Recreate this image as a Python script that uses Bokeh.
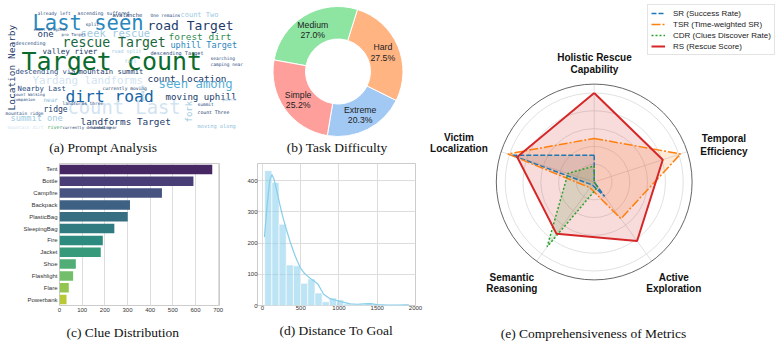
import colorsys
import numpy as np
from bokeh.plotting import figure
from bokeh.layouts import row, column
from bokeh.models import Range1d, FactorRange, FixedTicker, ColumnDataSource, Legend, LegendItem
from bokeh.core.properties import value, field
from bokeh.palettes import Viridis256
from bokeh.embed import file_html
from bokeh.resources import INLINE

# ---------------- data ----------------
prompt_phrases = [
    "Target count", "Last seen", "road Target", "seek rescue", "one", "rescue Target",
    "forest dirt", "uphill Target", "descending", "valley river", "road split",
    "descending Target", "fall", "descending via", "mountain summit", "count Location",
    "Yardang landforms", "seen among", "Nearby Last", "currently moving", "dirt road",
    "moving uphill", "near", "count Last", "ridge", "summit one", "landforms Target",
    "mountain dirt", "river", "currently descending", "landed near", "already left",
    "ascending suffered", "avalanche", "One remains", "count Two", "split",
    "count Original", "pro Target", "searching", "camping near", "count Walking",
    "companion", "landforms three", "mountain ridge", "summit", "pairs", "count Three",
    "moving along", "Location Nearby", "fork", "people",
]

difficulty_levels = ["Extreme", "Hard", "Medium", "Simple"]
difficulty_share = [20.3, 27.5, 27.0, 25.2]

clue_names = ["Tent", "Bottle", "Campfire", "Backpack", "PlasticBag", "SleepingBag",
              "Fire", "Jacket", "Shoe", "Flashlight", "Flare", "Powerbank"]
clue_counts = [674, 591, 452, 311, 301, 242, 191, 182, 72, 60, 41, 31]

dist_min, dist_max, dist_bins = 29, 1906, 20
dist_counts = [432, 394, 260, 130, 127, 71, 85, 40, 12, 24, 18, 5, 3, 4, 8, 3, 1, 1, 1, 3]
kde_x = [26, 60, 95, 123, 150, 190, 232, 270, 311, 360, 407, 450, 498, 545, 590, 647,
         721, 800, 887, 975, 1062, 1149, 1237, 1324, 1412, 1499, 1630, 1761, 1913]
kde_y = [219, 320, 400, 420, 405, 365, 318, 280, 245, 205, 172, 145, 120, 104, 94, 83,
         70, 36, 21, 16, 10, 5, 4, 5, 6, 3, 1, 1, 2]

metric_axes = ["Holistic Rescue\nCapability", "Temporal\nEfficiency", "Active\nExploration",
               "Semantic\nReasoning", "Victim\nLocalization"]
sr_vals = [0.30, 0.00, 0.20, 0.04, 0.97]
tsr_vals = [0.49, 1.02, 0.51, 0.08, 1.02]
cdr_vals = [0.18, 0.00, 0.07, 0.90, 0.31]
rs_vals = [1.00, 0.81, 0.82, 0.72, 0.91]

# ---------------- shared style ----------------
SERIF = value("Liberation Serif")
SANS = "Liberation Sans"
CAPTION_SIZE = "13.5px"


def base_fig(**kw):
    return figure(output_backend="svg", toolbar_location=None, min_border=0,
                  background_fill_color="white", border_fill_color="white", **kw)


# ---------------- (a) word cloud ----------------
G1, G2, G3, G4 = "#0a6b2d", "#17663c", "#2f8c4f", "#41a35a"
B1, B2, B3 = "#2a87bd", "#1663a5", "#57aed5"
L1, L1b, L2 = "#9ecae1", "#8dbddb", "#d2e4f1"
N1, N2 = "#1d3b6b", "#2a4a80"
# x, baseline y, font px, colour, vertical
cloud_layout = [
    (21, 69.5, 25, G1, 0), (32, 29.5, 20.5, B1, 0), (147, 29.5, 13, N1, 0),
    (80, 36.5, 10.5, L1, 0), (37, 36.5, 9, N1, 0), (62, 46.5, 13.2, G2, 0),
    (168, 39.5, 9.5, G3, 0), (170, 47.5, 8.5, B1, 0), (15, 44, 5, N2, 0),
    (42, 54, 7.6, N1, 0), (111, 52, 5, L1, 0), (150, 54, 5.2, N2, 0),
    (124, 62.5, 5, L1, 0), (15, 74, 7.1, N2, 0), (78, 74, 7.2, N1, 0),
    (147, 81.5, 9.4, N1, 0), (32, 84, 10.8, L2, 0), (158, 87.5, 12.3, B3, 0),
    (17, 91, 7.3, N2, 0), (102, 90, 4.6, N1, 0), (65, 102, 16.3, B2, 0),
    (165, 99.5, 9.1, N1, 0), (43, 101, 6, L1b, 0), (67, 114, 18.8, L2, 0),
    (43, 111.5, 8, N1, 0), (10, 121, 8.7, L1, 0), (80, 124, 9.4, N1, 0),
    (7, 128.5, 4.6, L2, 0), (47, 128.5, 5, G4, 0), (62, 128.5, 4, N1, 0),
    (90, 128.5, 4, N1, 0), (37, 15, 4.6, N2, 0), (77, 15, 4.8, N2, 0),
    (112, 16, 5.5, N1, 0), (150, 16.5, 4.5, N2, 0), (180, 17, 7, L1, 0),
    (85, 26, 4.5, N2, 0), (33, 30.5, 4, N2, 0), (61, 35, 4, N2, 0),
    (210, 60, 4.5, N2, 0), (210, 66, 4.5, N2, 0), (13, 95.5, 4, N2, 0),
    (13, 100.5, 4, N2, 0), (62, 105, 4.5, N2, 0), (5, 114.5, 4.5, N2, 0),
    (197, 106, 4.5, N2, 0), (222, 101, 4.5, L1, 0), (197, 113.5, 4.8, N1, 0),
    (197, 127.5, 5.3, L1b, 0), (14.5, 110, 9.5, N1, 1), (192, 122, 9, L1, 1),
    (144, 101, 4.5, L1b, 1),
]

# words are anchored at the middle of their capitals: shift the baseline by ~0.36 em
CAP_MID = 0.36
cx, cy = [], []
for x, y, s, _, vert in cloud_layout:
    if vert:
        cx.append(x - CAP_MID * s)
        cy.append(y)
    else:
        cx.append(x)
        cy.append(y - CAP_MID * s)

pa = base_fig(width=245, height=155, x_range=Range1d(0, 245), y_range=Range1d(155, 0), title=None)
pa.axis.visible = False
pa.grid.visible = False
pa.outline_line_color = None
cloud_src = ColumnDataSource(dict(
    text=prompt_phrases,
    x=cx,
    y=cy,
    size=["%spx" % c[2] for c in cloud_layout],
    color=[c[3] for c in cloud_layout],
    angle=[np.pi / 2 if c[4] else 0.0 for c in cloud_layout],
))
pa.text(x="x", y="y", text="text", source=cloud_src, text_font=value("DejaVu Sans Mono"),
        text_font_size=field("size"), text_color="color", angle="angle",
        text_align="left", text_baseline="middle")
pa.text(x=[103], y=[147], text=["(a) Prompt Analysis"], text_font=SERIF,
        text_font_size=CAPTION_SIZE, text_color="#111111", text_align="center",
        text_baseline="middle")

# ---------------- (b) donut ----------------
pb = base_fig(width=175, height=155, x_range=Range1d(-92.5, 82.5), y_range=Range1d(-84, 71), title=None)
pb.axis.visible = False
pb.grid.visible = False
pb.outline_line_color = None
pastel = {"Extreme": "#a1c9f4", "Hard": "#ffb482", "Medium": "#8de5a1", "Simple": "#ff9f9b"}
start_deg = -99.5
fr = np.asarray(difficulty_share) / np.sum(difficulty_share)
ends = start_deg + 360 * np.cumsum(fr)
starts = np.concatenate([[start_deg], ends[:-1]])
R_OUT, R_IN = 65, 32.5
pb.annular_wedge(x=0, y=0, inner_radius=R_IN, outer_radius=R_OUT,
                 start_angle=np.deg2rad(starts), end_angle=np.deg2rad(ends),
                 fill_color=[pastel[d] for d in difficulty_levels],
                 line_color="white", line_width=1)
mid = np.deg2rad((starts + ends) / 2)
lx = 0.75 * R_OUT * np.cos(mid)
ly = 0.75 * R_OUT * np.sin(mid)
pb.text(x=lx, y=ly + 5, text=difficulty_levels, text_font=value(SANS), text_font_size="8.7px",
        text_color="#222222", text_align="center", text_baseline="middle")
pb.text(x=lx, y=ly - 5.5, text=["%.1f%%" % s for s in difficulty_share], text_font=value(SANS),
        text_font_size="8.7px", text_color="#222222", text_align="center", text_baseline="middle")
pb.text(x=[-0.8], y=[-75.7], text=["(b) Task Difficulty"], text_font=SERIF,
        text_font_size=CAPTION_SIZE, text_color="#111111", text_align="center",
        text_baseline="middle")


# ---------------- (c) clue bar chart ----------------
def desaturate(hexc, prop=0.75):
    r, g, b = [int(hexc[i:i + 2], 16) / 255 for i in (1, 3, 5)]
    h, l, s = colorsys.rgb_to_hls(r, g, b)
    r, g, b = colorsys.hls_to_rgb(h, l, s * prop)
    return "#%02x%02x%02x" % tuple(int(round(c * 255)) for c in (r, g, b))


n_clue = len(clue_names)
bar_colors = [desaturate(Viridis256[min(255, int((i + 1) / (n_clue + 1) * 256))]) for i in range(n_clue)]


def style_axes(p, xstand, ystand):
    for ax in (p.xaxis[0], p.yaxis[0]):
        ax.axis_line_color = None
        ax.major_tick_line_color = None
        ax.minor_tick_line_color = None
        ax.major_tick_out = 0
        ax.major_tick_in = 0
        ax.minor_tick_out = 0
        ax.major_label_text_font = SANS
        ax.major_label_text_font_size = "6px"
        ax.major_label_text_color = "#333333"
    p.xaxis.major_label_standoff = xstand
    p.yaxis.major_label_standoff = ystand
    p.outline_line_color = "#cccccc"
    p.outline_line_width = 1


def style_caption(p, offset):
    p.title.align = "left"
    p.title.offset = offset
    p.title.text_font = "Liberation Serif"
    p.title.text_font_size = CAPTION_SIZE
    p.title.text_font_style = "normal"
    p.title.text_color = "#111111"
    p.title.standoff = 17


pc = base_fig(width=230, height=193, title="(c) Clue Distribution", title_location="below",
              x_range=Range1d(0, 706), y_range=FactorRange(factors=clue_names[::-1]))
pc.min_border_left = 59
pc.min_border_right = 11
pc.min_border_top = 8
pc.min_border_bottom = 41
pc.hbar(y=clue_names, left=0, right=clue_counts, height=0.8, fill_color=bar_colors, line_color=None)
pc.xaxis.ticker = FixedTicker(ticks=list(range(0, 701, 100)))
style_axes(pc, 2, 2)
pc.ygrid.grid_line_color = None
pc.xgrid.grid_line_color = "#dddddd"
pc.xgrid.grid_line_width = 1
style_caption(pc, 7)

# ---------------- (d) distance histogram ----------------
edges = np.linspace(dist_min, dist_max, dist_bins + 1)
pd_ = base_fig(width=195, height=193, title="(d) Distance To Goal", title_location="below",
               x_range=Range1d(-65, 2000), y_range=Range1d(0, 455))
pd_.min_border_left = 27
pd_.min_border_right = 10
pd_.min_border_top = 8
pd_.min_border_bottom = 39
pd_.quad(left=edges[:-1], right=edges[1:], bottom=0, top=dist_counts,
         fill_color="#87ceeb", fill_alpha=0.55, line_color="white", line_width=0.6)
pd_.line(kde_x, kde_y, line_color="#87ceeb", line_width=1.2)
pd_.xaxis.ticker = FixedTicker(ticks=[0, 500, 1000, 1500, 2000])
pd_.yaxis.ticker = FixedTicker(ticks=[0, 100, 200, 300, 400])
style_axes(pd_, 0, 0)
pd_.grid.grid_line_color = "#dddddd"
pd_.grid.grid_line_width = 1
style_caption(pd_, 22)

# ---------------- (e) radar ----------------
pe = base_fig(width=358, height=348, x_range=Range1d(-1.8955, 2.127),
              y_range=Range1d(-1.8708, 2.0393), title=None)
pe.axis.visible = False
pe.grid.visible = False
pe.outline_line_color = None

n_ax = len(metric_axes)
theta = np.deg2rad(90 - 72 * np.arange(n_ax))
R_MAX = 1.1
for r in [0.2, 0.4, 0.6, 0.8, 1.0]:
    pe.circle(x=0, y=0, radius=r, fill_color=None, line_color="#d9d9d9", line_width=0.8)
pe.segment(x0=0, y0=0, x1=R_MAX * np.cos(theta), y1=R_MAX * np.sin(theta),
           line_color="#d9d9d9", line_width=0.8)
pe.circle(x=0, y=0, radius=R_MAX, fill_color=None, line_color="#555555", line_width=0.9)


def closed_xy(vals):
    v = np.append(vals, vals[0])
    t = np.append(theta, theta[0])
    return v * np.cos(t), v * np.sin(t)


series = [
    ("SR (Success Rate)", sr_vals, "#1f77b4", "5 2", 1.5),
    ("TSR (Time-weighted SR)", tsr_vals, "#ff7f0e", "9 2 2 2", 1.5),
    ("CDR (Clues Discover Rate)", cdr_vals, "#2ca02c", "2 2", 1.5),
    ("RS (Rescue Score)", rs_vals, "#d62728", "solid", 2.0),
]
items = []
for name, vals, col, dash, lw in series:
    xs, ys = closed_xy(vals)
    pe.patch(xs, ys, fill_color=col, fill_alpha=0.16, line_color=None)
for name, vals, col, dash, lw in series:
    xs, ys = closed_xy(vals)
    rr = pe.line(xs, ys, line_color=col, line_width=lw, line_dash=dash)
    items.append(LegendItem(label=name, renderers=[rr]))

legend = Legend(items=items, location=(222, 293), label_text_font=SANS,
                label_text_font_size="8px", label_text_color="#222222",
                glyph_width=14, glyph_height=10, label_height=10, label_standoff=8,
                spacing=1, padding=3, margin=0, border_line_color="#c8c8c8",
                border_line_width=1, background_fill_color="white", background_fill_alpha=1)
pe.add_layout(legend)

# label centres (first line, second line), in radar units
label_pos = [(0.003, 1.399, 1.267), (1.458, 0.485, 0.346), (0.894, -1.070, -1.200),
             (-0.926, -1.070, -1.200), (-1.520, 0.503, 0.373)]
l1x, l1y, l2y, t1, t2 = [], [], [], [], []
for name, (x, y1, y2) in zip(metric_axes, label_pos):
    a, b = name.split("\n")
    l1x.append(x); l1y.append(y1); l2y.append(y2); t1.append(a); t2.append(b)
for ys, ts in ((l1y, t1), (l2y, t2)):
    pe.text(x=l1x, y=ys, text=ts, text_font=value(SANS), text_font_style="bold",
            text_font_size="10px", text_color="#111111", text_align="center",
            text_baseline="middle")
pe.text(x=[-0.008], y=[-1.702], text=["(e) Comprehensiveness of Metrics"], text_font=SERIF,
        text_font_size=CAPTION_SIZE, text_color="#111111", text_align="center",
        text_baseline="middle")

layout = row(column(row(pa, pb), row(pc, pd_)), pe)
open("out.html", "w").write(file_html(layout, INLINE))
